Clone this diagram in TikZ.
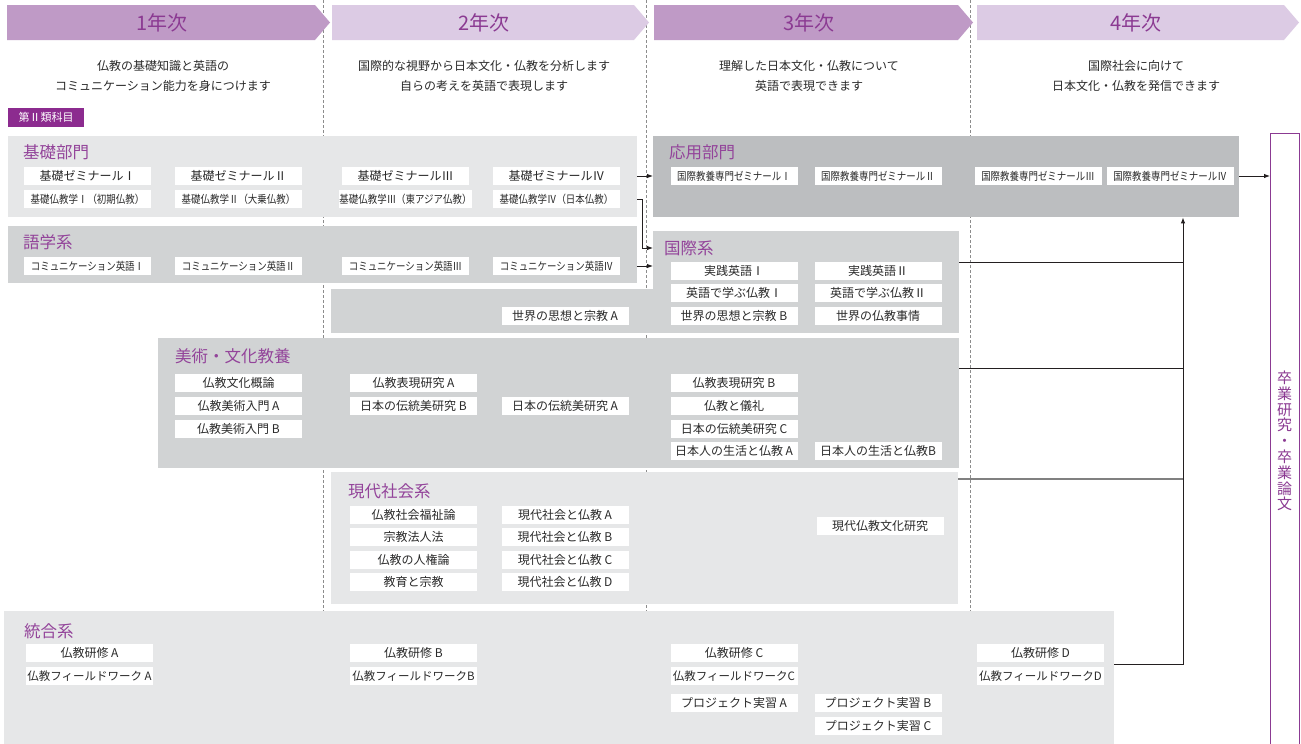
\documentclass[tikz,border=0pt]{standalone}
\usepackage{fontspec}
\setmainfont{Noto Sans CJK JP}
\newfontfamily\condf[FakeStretch=0.86]{Noto Sans CJK JP}
\usetikzlibrary{arrows.meta,calc}
\definecolor{hdA}{HTML}{BF9AC6}
\definecolor{hdB}{HTML}{DCCBE4}
\definecolor{hdtxt}{HTML}{8B3A92}
\definecolor{ttlc}{HTML}{93449A}
\definecolor{badgec}{HTML}{8C2B8F}
\definecolor{gA}{HTML}{E6E7E8}
\definecolor{gB}{HTML}{D1D3D4}
\definecolor{gC}{HTML}{BCBEC0}
\definecolor{txt}{HTML}{2A2A2A}
\definecolor{lnc}{HTML}{231F20}
\definecolor{dsh}{HTML}{8C8C8C}
\begin{document}
\begin{tikzpicture}[x=1pt,y=-1pt,
  item/.style={fill=white, minimum width=127pt, minimum height=18pt, inner sep=0pt, text=txt, font=\fontsize{12}{12}\selectfont},
  citem/.style={item, font=\condf\fontsize{11}{11}\selectfont},
  grp/.style={anchor=north west, inner sep=0pt, draw=none},
  gttl/.style={anchor=west, text=ttlc, font=\fontsize{16.5}{16.5}\selectfont, inner sep=0pt},
  hdr/.style={text=hdtxt, font=\fontsize{20}{20}\selectfont, inner sep=0pt},
  desc/.style={text=txt, font=\fontsize{12}{20}\selectfont, align=center, inner sep=0pt},
  conn/.style={draw=lnc, line width=0.9pt, -{Latex[length=6pt,width=4.5pt]}},
  plainln/.style={draw=lnc, line width=0.9pt},
  vline/.style={draw=dsh, line width=0.6pt, dash pattern=on 3pt off 2pt}
]
\useasboundingbox (0,0) rectangle (1301,744);
\fill[white] (0,0) rectangle (1301,744);
% dashed year separators
\draw[vline] (323,0) -- (323,744);
\draw[vline] (646,0) -- (646,744);
\draw[vline] (970,0) -- (970,744);
% headers
\fill[hdA] (7,5) -- (315,5) -- (330,22.5) -- (315,40) -- (7,40) -- cycle;
\fill[hdB] (332,5) -- (634,5) -- (649,22.5) -- (634,40) -- (332,40) -- cycle;
\fill[hdA] (654,5) -- (958,5) -- (973,22.5) -- (958,40) -- (654,40) -- cycle;
\fill[hdB] (977,5) -- (1284,5) -- (1299,22.5) -- (1284,40) -- (977,40) -- cycle;
\node[hdr] (h1) at (162,22.5) {1年次};
\node[hdr] (h2) at (484,22.5) {2年次};
\node[hdr] (h3) at (809,22.5) {3年次};
\node[hdr] (h4) at (1136,22.5) {4年次};
% descriptions
\node[desc] (d1) at (163,76) {仏教の基礎知識と英語の\\コミュニケーション能力を身につけます};
\node[desc] (d2) at (484,76) {国際的な視野から日本文化・仏教を分析します\\自らの考えを英語で表現します};
\node[desc] (d3) at (809,76) {理解した日本文化・仏教について\\英語で表現できます};
\node[desc] (d4) at (1136,76) {国際社会に向けて\\日本文化・仏教を発信できます};
% badge
\node[fill=badgec, text=white, minimum width=76pt, minimum height=19pt, inner sep=0pt, font=\fontsize{11}{11}\selectfont] (badge) at (46,117.5) {第Ⅱ類科目};
% group boxes
\node[grp, fill=gA, minimum width=629pt, minimum height=81pt] (kiso) at (8,136) {};
\node[grp, fill=gB, minimum width=629pt, minimum height=57pt] (gogaku) at (8,226) {};
\node[grp, fill=gC, minimum width=586pt, minimum height=81pt] (ouyou) at (653,136) {};
\node[grp, fill=gB, minimum width=323pt, minimum height=44pt] (kokusaiX) at (331,289) {};
\node[grp, fill=gB, minimum width=306pt, minimum height=102pt] (kokusai) at (653,231) {};
\node[grp, fill=gB, minimum width=801pt, minimum height=130pt] (bijutsu) at (158,338) {};
\node[grp, fill=gA, minimum width=627pt, minimum height=132pt] (gendai) at (331,472) {};
\node[grp, fill=gA, minimum width=1110pt, minimum height=133pt] (tougou) at (4,611) {};
\node[grp, fill=white, draw=hdtxt, line width=1pt, minimum width=29pt, minimum height=611pt] (sotsu) at (1270,133) {};
% titles
\node[gttl] (kisoT) at (23,152) {基礎部門};
\node[gttl] (gogakuT) at (23,242) {語学系};
\node[gttl] (ouyouT) at (669,152) {応用部門};
\node[gttl] (kokusaiT) at (664,248) {国際系};
\node[gttl] (bijutsuT) at (175,356) {美術・文化教養};
\node[gttl] (gendaiT) at (348,491) {現代社会系};
\node[gttl] (tougouT) at (24,631) {統合系};
\node[text=hdtxt, font=\fontsize{15}{15.8}\selectfont, align=center, inner sep=0pt] (sotsuT) at (1284.5,441) {卒\\業\\研\\究\\・\\卒\\業\\論\\文};
% 基礎部門
\node[item] (ks1) at (87.5,176) {基礎ゼミナールⅠ};
\node[item] (ks2) at (238.5,176) {基礎ゼミナールⅡ};
\node[item] (ks3) at (405.5,176) {基礎ゼミナールⅢ};
\node[item] (ks4) at (556.5,176) {基礎ゼミナールⅣ};
\node[citem] (kb1) at (87.5,199) {基礎仏教学Ⅰ（初期仏教）};
\node[citem] (kb2) at (238.5,199) {基礎仏教学Ⅱ（大乗仏教）};
\node[citem] (kb3) at (405.5,199) {基礎仏教学Ⅲ（東アジア仏教）};
\node[citem] (kb4) at (556.5,199) {基礎仏教学Ⅳ（日本仏教）};
% 語学系
\node[citem] (ge1) at (87.5,266) {コミュニケーション英語Ⅰ};
\node[citem] (ge2) at (238.5,266) {コミュニケーション英語Ⅱ};
\node[citem] (ge3) at (405.5,266) {コミュニケーション英語Ⅲ};
\node[citem] (ge4) at (556.5,266) {コミュニケーション英語Ⅳ};
% 応用部門
\node[citem] (oy1) at (734,176) {国際教養専門ゼミナールⅠ};
\node[citem] (oy2) at (878,176) {国際教養専門ゼミナールⅡ};
\node[citem] (oy3) at (1038,176) {国際教養専門ゼミナールⅢ};
\node[citem] (oy4) at (1170,176) {国際教養専門ゼミナールⅣ};
% 国際系
\node[item] (kk1) at (734,271) {実践英語Ⅰ};
\node[item] (kk2) at (878,271) {実践英語Ⅱ};
\node[item] (kk3) at (734,293) {英語で学ぶ仏教Ⅰ};
\node[item] (kk4) at (878,293) {英語で学ぶ仏教Ⅱ};
\node[item] (kk5) at (734,316) {世界の思想と宗教 B};
\node[item] (kk6) at (878,316) {世界の仏教事情};
\node[item] (kk0) at (565,316) {世界の思想と宗教 A};
% 美術・文化教養
\node[item] (bj1) at (238.5,383) {仏教文化概論};
\node[item] (bj2) at (238.5,406) {仏教美術入門 A};
\node[item] (bj3) at (238.5,429) {仏教美術入門 B};
\node[item] (bj4) at (413.5,383) {仏教表現研究 A};
\node[item] (bj5) at (413.5,406) {日本の伝統美研究 B};
\node[item] (bj6) at (565,406) {日本の伝統美研究 A};
\node[item] (bj7) at (734,383) {仏教表現研究 B};
\node[item] (bj8) at (734,406) {仏教と儀礼};
\node[item] (bj9) at (734,429) {日本の伝統美研究 C};
\node[item] (bj10) at (734,451) {日本人の生活と仏教 A};
\node[item] (bj11) at (878,451) {日本人の生活と仏教B};
% 現代社会系
\node[item] (gd1) at (413.5,515) {仏教社会福祉論};
\node[item] (gd2) at (413.5,537) {宗教法人法};
\node[item] (gd3) at (413.5,560) {仏教の人権論};
\node[item] (gd4) at (413.5,582) {教育と宗教};
\node[item] (gd5) at (565,515) {現代社会と仏教 A};
\node[item] (gd6) at (565,537) {現代社会と仏教 B};
\node[item] (gd7) at (565,560) {現代社会と仏教 C};
\node[item] (gd8) at (565,582) {現代社会と仏教 D};
\node[item] (gd9) at (880,526) {現代仏教文化研究};
% 統合系
\node[item] (tg1) at (89.5,653) {仏教研修 A};
\node[item, font=\fontsize{11.5}{11.5}\selectfont] (tg2) at (89.5,676) {仏教フィールドワーク A};
\node[item] (tg3) at (413.5,653) {仏教研修 B};
\node[item, font=\fontsize{11.5}{11.5}\selectfont] (tg4) at (413.5,676) {仏教フィールドワークB};
\node[item] (tg5) at (734,653) {仏教研修 C};
\node[item, font=\fontsize{11.5}{11.5}\selectfont] (tg6) at (734,676) {仏教フィールドワークC};
\node[item] (tg7) at (734,703) {プロジェクト実習 A};
\node[item] (tg8) at (878,703) {プロジェクト実習 B};
\node[item] (tg9) at (878,725.5) {プロジェクト実習 C};
\node[item] (tg10) at (1040.5,653) {仏教研修 D};
\node[item, font=\fontsize{11.5}{11.5}\selectfont] (tg11) at (1040.5,676) {仏教フィールドワークD};
% connectors
\draw[conn] (kiso.east |- ks4) -- (ouyou.west |- ks4);
\draw[conn] (kiso.east |- kb4) -- ++(5,0) |- (kokusai.west |- kokusaiT);
\draw[conn] (gogaku.east |- ge4) -- (kokusai.west |- ge4);
\draw[conn] (ouyou.east |- oy4) -- (sotsu.west |- oy4);
\coordinate (busK) at (1183,262);
\coordinate (busB) at (1183,368);
\coordinate (busG) at (1183,479);
\coordinate (busT) at (1183,664);
\draw[plainln] (kokusai.east |- busK) -- (busK);
\draw[plainln] (bijutsu.east |- busB) -- (busB);
\draw[plainln, draw=gray, line width=1.2pt] (gendai.east |- busG) -- (busG);
\draw[conn] (tougou.east |- busT) -| (ouyou.south -| busT);
\end{tikzpicture}
\end{document}
